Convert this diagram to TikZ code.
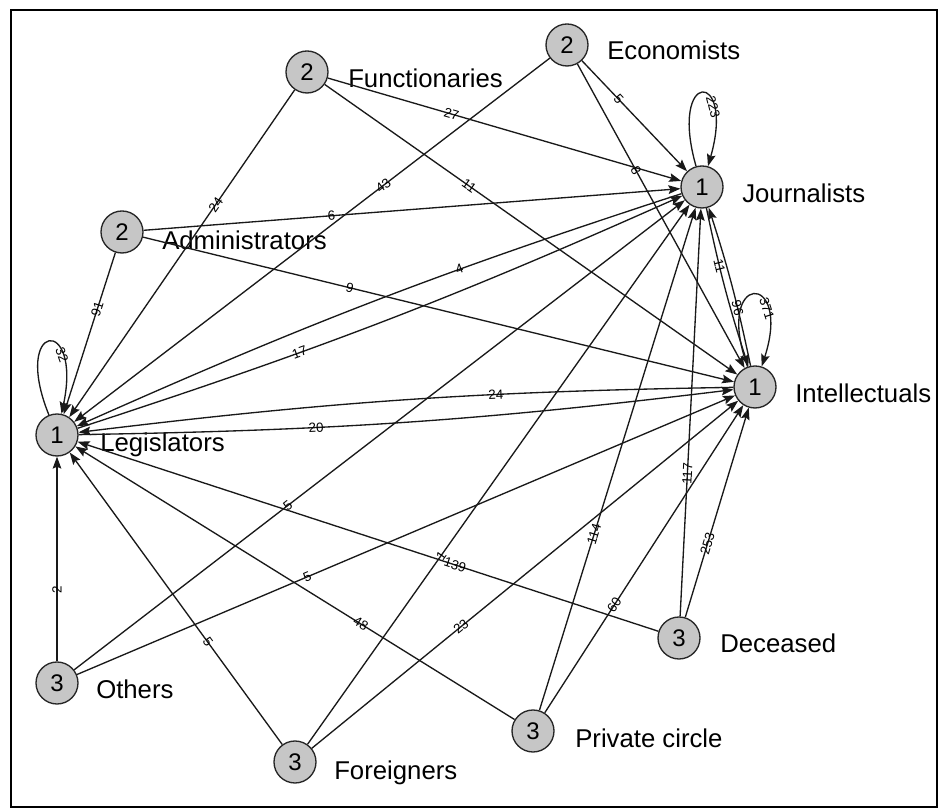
\documentclass[tikz,border=0pt]{standalone}
\usepackage{fontspec}
\setmainfont{Liberation Sans}
\usetikzlibrary{arrows.meta}

\tikzset{
    vertex/.style={circle,draw=black!85,line width=1pt,fill=gray!45,
        minimum size=31.5pt,inner sep=0pt,font=\fontsize{18}{20}\selectfont},
    vname/.style={anchor=base west,inner sep=0pt,font=\fontsize{19.3}{22}\selectfont},
    link/.style={draw=black!90,line width=1pt,
        -{Stealth[length=9pt,width=6.5pt,inset=1.5pt]}},
    wlabel/.style={font=\fontsize{10}{12}\selectfont,sloped,pos=0.35,inner sep=0pt},
}

\begin{document}
\begin{tikzpicture}[x=0.75pt,y=0.75pt]
    \useasboundingbox (0,0) rectangle (939,810);
    % cadre
    \draw[line width=0.8pt] (11,3) rectangle (937,800);
    % sommets
    \node[vertex] (eco) at (567,765) {2};
    \node[vertex] (fun) at (307,738) {2};
    \node[vertex] (jou) at (702,623) {1};
    \node[vertex] (adm) at (122,578) {2};
    \node[vertex] (int) at (755,423) {1};
    \node[vertex] (leg) at (57,375) {1};
    \node[vertex] (oth) at (57,127) {3};
    \node[vertex] (fgn) at (295,48) {3};
    \node[vertex] (pri) at (533,79) {3};
    \node[vertex] (dec) at (679,172) {3};
    % noms
    \node[vname] (ecoT) at (607,750) {Economists};
    \node[vname] (funT) at (348,722) {Functionaries};
    \node[vname] (jouT) at (742,607) {Journalists};
    \node[vname] (admT) at (162,560) {Administrators};
    \node[vname] (intT) at (795,407) {Intellectuals};
    \node[vname] (legT) at (100,358) {Legislators};
    \node[vname] (othT) at (96,111) {Others};
    \node[vname] (fgnT) at (334,30) {Foreigners};
    \node[vname] (priT) at (575,62) {Private circle};
    \node[vname] (decT) at (720,157) {Deceased};
    % arcs
    \foreach \s/\t/\w in {adm/leg/91, fun/leg/24, eco/leg/43, fun/jou/27, fun/int/11,
        eco/jou/5, eco/int/8, adm/jou/6, adm/int/9, oth/leg/2, oth/jou/5, oth/int/5,
        fgn/leg/5, fgn/jou/1, fgn/int/23, pri/leg/48, pri/jou/114, pri/int/60,
        dec/leg/139, dec/jou/117, dec/int/253}
        \draw[link] (\s) -- node[wlabel]{\w} (\t);
    % arcs reciproques
    \foreach \s/\t/\w in {leg/jou/17, jou/leg/4, leg/int/20, int/leg/24, jou/int/11, int/jou/96}
        \draw[link] (\s) to[bend right=3] node[wlabel]{\w} (\t);
    % boucles
    \draw[link] (leg) to[out=112,in=78,min distance=76pt] node[wlabel,pos=0.72]{32} (leg);
    \draw[link] (jou) to[out=106,in=74,min distance=76pt] node[wlabel,pos=0.72]{223} (jou);
    \draw[link] (int) to[out=110,in=72,min distance=76pt] node[wlabel,pos=0.72]{371} (int);
\end{tikzpicture}
\end{document}
